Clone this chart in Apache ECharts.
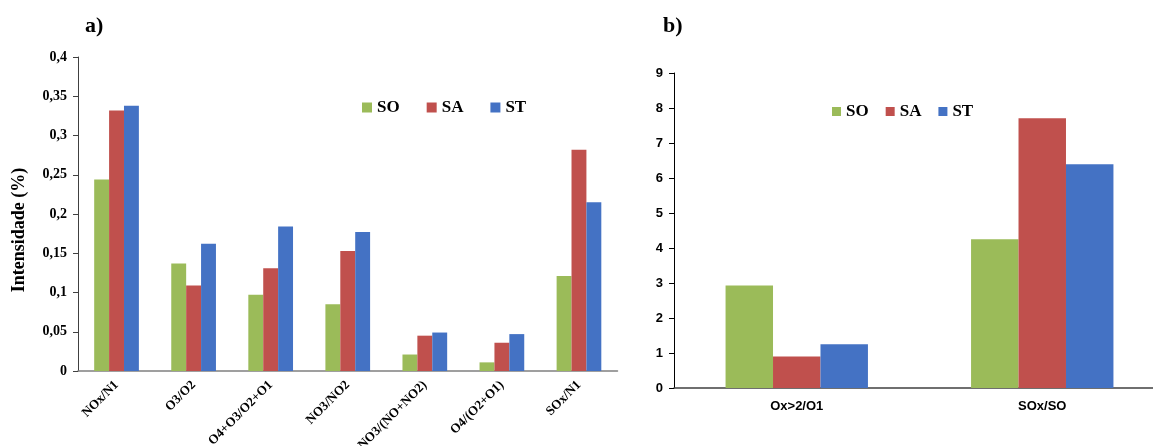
<!DOCTYPE html>
<html><head><meta charset="utf-8">
<script src="https://cdn.jsdelivr.net/npm/echarts@6/dist/echarts.min.js"></script>
<style>html,body{margin:0;padding:0;background:#fff;overflow:hidden}#c{width:1153px;height:446px}</style>
</head><body><div id="c"></div>
<script>
const catsA = ['NOx/N1','O3/O2','O4+O3/O2+O1','NO3/NO2','NO3/(NO+NO2)','O4/(O2+O1)','SOx/N1'];
const soA = [0.244, 0.137, 0.097, 0.085, 0.021, 0.011, 0.121];
const saA = [0.332, 0.109, 0.131, 0.153, 0.045, 0.036, 0.282];
const stA = [0.338, 0.162, 0.184, 0.177, 0.049, 0.047, 0.215];
const catsB = ['Ox>2/O1','SOx/SO'];
const soB = [2.93, 4.25];
const saB = [0.90, 7.71];
const stB = [1.25, 6.39];
const seriesNames = ['SO','SA','ST'];
const colors = ['#9BBB59','#C0504D','#4472C4'];
const serif = 'Liberation Serif';
const sans = 'Liberation Sans';

const chart = echarts.init(document.getElementById('c'));
const mk = (name, data, ax, i) => ({
  name, type: 'bar', data, xAxisIndex: ax, yAxisIndex: ax,
  barGap: '0%', barCategoryGap: '42%', itemStyle: { color: colors[i] }, animation: false
});
chart.setOption({
  animation: false,
  color: colors,
  title: [
    { text: 'a)', left: 80, top: 10, textStyle: { fontFamily: serif, fontWeight: 'bold', fontSize: 22, color: '#000' } },
    { text: 'b)', left: 658, top: 10, textStyle: { fontFamily: serif, fontWeight: 'bold', fontSize: 22, color: '#000' } }
  ],
  graphic: [
    { type: 'text', x: 19, y: 230, rotation: Math.PI / 2,
      style: { text: 'Intensidade (%)', align: 'center', verticalAlign: 'middle',
        font: 'bold 18px "Liberation Serif"', fill: '#000' } }
  ],
  legend: [
    { data: seriesNames, left: 357, top: 94, itemWidth: 10, itemHeight: 10, itemGap: 27, icon: 'rect',
      textStyle: { fontFamily: serif, fontWeight: 'bold', fontSize: 17, color: '#000' } },
    { data: seriesNames, left: 827, top: 98, itemWidth: 9, itemHeight: 9, itemGap: 17, icon: 'rect',
      textStyle: { fontFamily: serif, fontWeight: 'bold', fontSize: 17, color: '#000' } }
  ],
  grid: [
    { left: 78, top: 57, width: 539.5, height: 314, containLabel: false, outerBoundsMode: 'none' },
    { left: 674, top: 73, width: 491, height: 315, containLabel: false, outerBoundsMode: 'none' }
  ],
  xAxis: [
    { type: 'category', gridIndex: 0, data: catsA,
      axisLine: { lineStyle: { color: '#808080', width: 1.5 } }, axisTick: { show: false },
      axisLabel: { rotate: 45, interval: 0, margin: 12, fontFamily: serif, fontWeight: 'bold', fontSize: 13, color: '#000' } },
    { type: 'category', gridIndex: 1, data: catsB,
      axisLine: { lineStyle: { color: '#404040', width: 1.5 } }, axisTick: { show: false },
      axisLabel: { interval: 0, margin: 12, fontFamily: sans, fontWeight: 'bold', fontSize: 13, color: '#000' } }
  ],
  yAxis: [
    { type: 'value', gridIndex: 0, min: 0, max: 0.4, interval: 0.05,
      axisLine: { show: true, lineStyle: { color: '#404040', width: 1 } },
      axisTick: { show: true, length: 5, lineStyle: { color: '#404040' } },
      splitLine: { show: false },
      axisLabel: { margin: 11, fontFamily: serif, fontWeight: 'bold', fontSize: 14, color: '#000',
        formatter: v => parseFloat(v.toFixed(2)).toString().replace('.', ',') } },
    { type: 'value', gridIndex: 1, min: 0, max: 9, interval: 1,
      axisLine: { show: true, lineStyle: { color: '#000', width: 1 } },
      axisTick: { show: true, length: 5, lineStyle: { color: '#000' } },
      splitLine: { show: false },
      axisLabel: { margin: 11, fontFamily: sans, fontWeight: 'bold', fontSize: 13, color: '#000' } }
  ],
  series: [
    mk('SO', soA, 0, 0), mk('SA', saA, 0, 1), mk('ST', stA, 0, 2),
    mk('SO', soB, 1, 0), mk('SA', saB, 1, 1), mk('ST', stB, 1, 2)
  ]
});
</script></body></html>
